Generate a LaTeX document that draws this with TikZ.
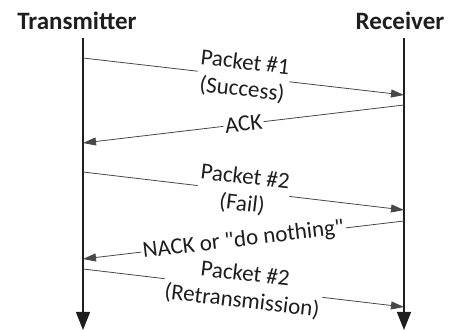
\documentclass[tikz,border=0pt]{standalone}
\usepackage{fontspec}
\setmainfont{Carlito}
\usetikzlibrary{arrows.meta, positioning}
\definecolor{msggray}{HTML}{474747}
\definecolor{inkdark}{HTML}{1E1E1E}

\begin{document}
\begin{tikzpicture}[
    x=1pt, y=-1pt,
    party/.style={font=\fontsize{25}{29}\selectfont\bfseries, text=inkdark, inner sep=0pt},
    lifeline/.style={draw=inkdark, line width=1.2pt, -{Triangle[length=18pt, width=14pt]}},
    msg/.style={draw=msggray, line width=0.8pt, -{Triangle[length=13pt, width=8pt]}},
    tag/.style={midway, sloped, fill=white, inner sep=1.5pt, align=center,
                font=\fontsize{23}{27}\selectfont, text=inkdark}
]
    \useasboundingbox (0,0) rectangle (453,331);

    % Parties
    \node[party] (tx) at (77,21) {Transmitter};
    \node[party] (rx) at (400,21) {Receiver};

    % Lifelines
    \coordinate (txtop) at (83,38);
    \coordinate (txend) at (83,330);
    \coordinate (rxtop) at (404,38);
    \coordinate (rxend) at (404,330);
    \draw[lifeline] (txtop) -- (txend);
    \draw[lifeline] (rxtop) -- (rxend);

    % Message end points
    \coordinate (t1) at (83,58);   \coordinate (r1) at (404,95);
    \coordinate (r2) at (404,105); \coordinate (t2) at (83,143);
    \coordinate (t3) at (83,172);  \coordinate (r3) at (404,210);
    \coordinate (r4) at (404,221); \coordinate (t4) at (83,259);
    \coordinate (t5) at (83,269);  \coordinate (r5) at (404,307);

    % Messages
    \draw[msg] (t1) -- node[tag] {Packet \#1\\(Success)} (r1);
    \draw[msg] (r2) -- node[tag] {ACK} (t2);
    \draw[msg] (t3) -- node[tag] {Packet \#2\\(Fail)} (r3);
    \draw[msg] (r4) -- node[tag] {NACK or \textquotedbl do nothing\textquotedbl} (t4);
    \draw[msg] (t5) -- node[tag] {Packet \#2\\(Retransmission)} (r5);
\end{tikzpicture}
\end{document}
